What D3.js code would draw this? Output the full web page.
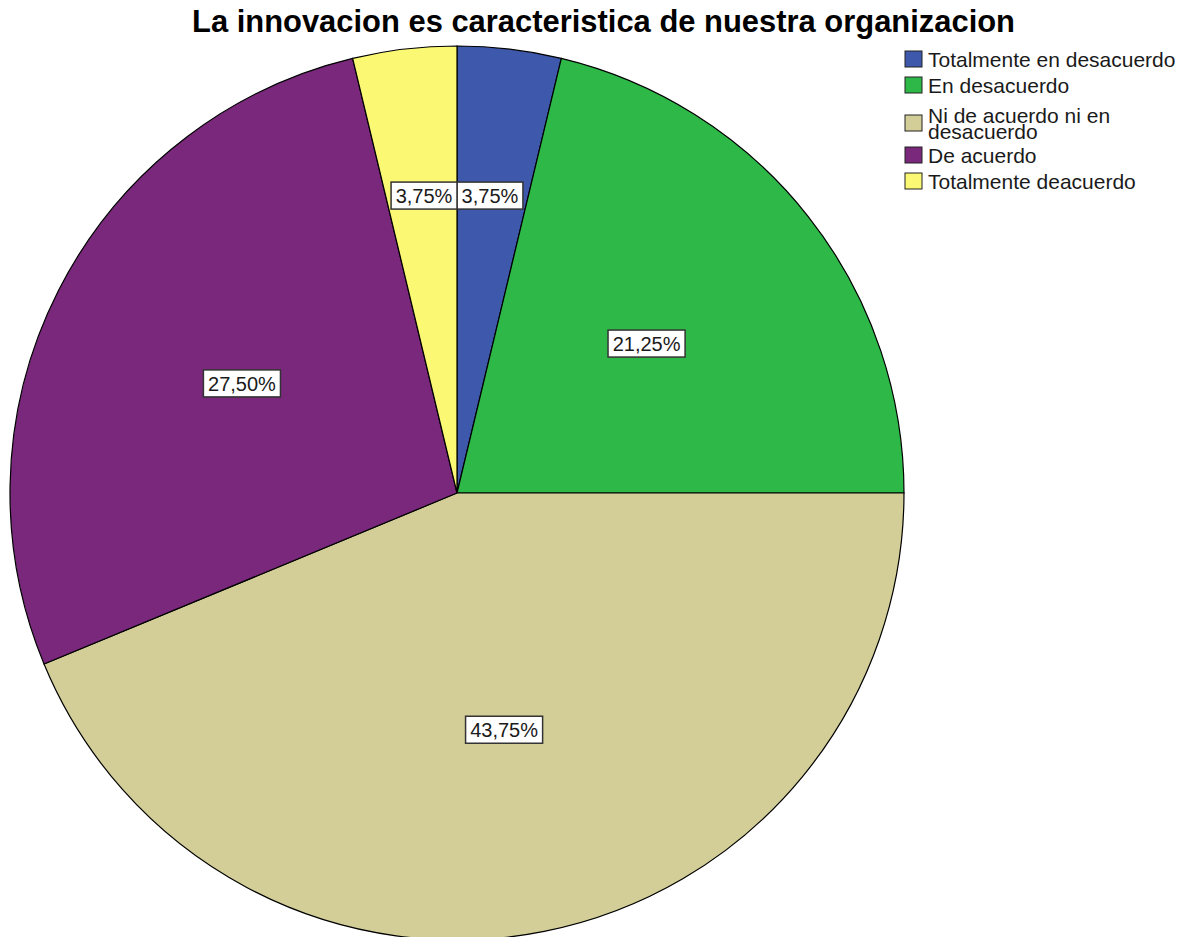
<!DOCTYPE html>
<html>
<head>
<meta charset="utf-8">
<script src="https://cdn.jsdelivr.net/npm/d3@7"></script>
<style>
  body { margin: 0; background: #fff; }
  svg { display: block; font-family: Arial, "Liberation Sans", sans-serif; }
</style>
</head>
<body>
<div id="chart"></div>
<script>
const categories = ["Totalmente en desacuerdo", "En desacuerdo", "Ni de acuerdo ni en desacuerdo", "De acuerdo", "Totalmente deacuerdo"];
const legendLines = [["Totalmente en desacuerdo"], ["En desacuerdo"], ["Ni de acuerdo ni en", "desacuerdo"], ["De acuerdo"], ["Totalmente deacuerdo"]];
const percents = [3.75, 21.25, 43.75, 27.50, 3.75];
const colors = ["#3E58AC", "#2EB848", "#D3CE97", "#79287B", "#FBF873"];
const title = "La innovacion es caracteristica de nuestra organizacion";

const width = 1186, height = 937;
const cx = 457, cy = 493, radius = 447;

const svg = d3.select("#chart").append("svg")
  .attr("width", width)
  .attr("height", height);

const color = d3.scaleOrdinal().domain(categories).range(colors);

// title
svg.append("text")
  .attr("x", 192)
  .attr("y", 32)
  .attr("font-size", 32)
  .attr("font-weight", "bold")
  .attr("textLength", 823)
  .attr("lengthAdjust", "spacingAndGlyphs")
  .text(title);

const pie = d3.pie().sort(null).value(d => d.value);
const arcs = pie(categories.map((c, i) => ({ name: c, value: percents[i] })));
const arc = d3.arc().innerRadius(0).outerRadius(radius);
const labelArcBig = d3.arc().innerRadius(radius * 0.54).outerRadius(radius * 0.54);
const labelArcSmall = d3.arc().innerRadius(radius * 0.67).outerRadius(radius * 0.67);

const g = svg.append("g").attr("transform", `translate(${cx},${cy})`);

g.selectAll("path.slice")
  .data(arcs)
  .enter().append("path")
  .attr("class", "slice")
  .attr("d", arc)
  .attr("fill", d => color(d.data.name))
  .attr("stroke", "#000")
  .attr("stroke-width", 1.2);

const fmt = v => v.toFixed(2).replace(".", ",") + "%";

// value labels in white boxes
g.selectAll("g.lbl")
  .data(arcs)
  .enter().append("g")
  .attr("class", "lbl")
  .each(function (d) {
    const lg = d3.select(this);
    const box = lg.append("rect");
    const t = lg.append("text")
      .attr("text-anchor", "middle")
      .attr("dy", "0.36em")
      .attr("font-size", 20)
      .attr("fill", "#1a1a1a")
      .text(fmt(d.data.value));
    const w = t.node().getBBox().width + 9, h = 27;
    box.attr("x", -w / 2).attr("y", -h / 2)
      .attr("width", w).attr("height", h)
      .attr("fill", "#fff")
      .attr("stroke", "#333")
      .attr("stroke-width", 1.5);
    let x, y;
    if (d.data.value < 5) {
      // thin slices: box sits against the vertical edge at 12 o'clock
      const c = labelArcSmall.centroid(d);
      const mid = (d.startAngle + d.endAngle) / 2;
      x = mid < Math.PI ? w / 2 : -w / 2;
      y = c[1];
    } else {
      [x, y] = labelArcBig.centroid(d);
    }
    lg.attr("transform", `translate(${x},${y})`);
  });

// legend
const legendY = [51, 77, 115, 147, 173];
const legend = svg.selectAll(".legend-item")
  .data(categories)
  .enter().append("g")
  .attr("class", "legend-item")
  .attr("transform", (d, i) => `translate(905,${legendY[i]})`);

legend.append("rect")
  .attr("width", 17)
  .attr("height", 16)
  .attr("fill", d => color(d))
  .attr("stroke", "#222")
  .attr("stroke-width", 1);

legend.append("text")
  .attr("transform", "translate(23,0) scale(1.05,1)")
  .attr("font-size", 20)
  .attr("fill", "#1a1a1a")
  .selectAll("tspan")
  .data((d, i) => legendLines[i])
  .enter().append("tspan")
  .attr("x", 0)
  .attr("y", (d, i, nodes) => 16 - (nodes.length - 1) * 8.5 + i * 17)
  .text(d => d);
</script>
</body>
</html>
